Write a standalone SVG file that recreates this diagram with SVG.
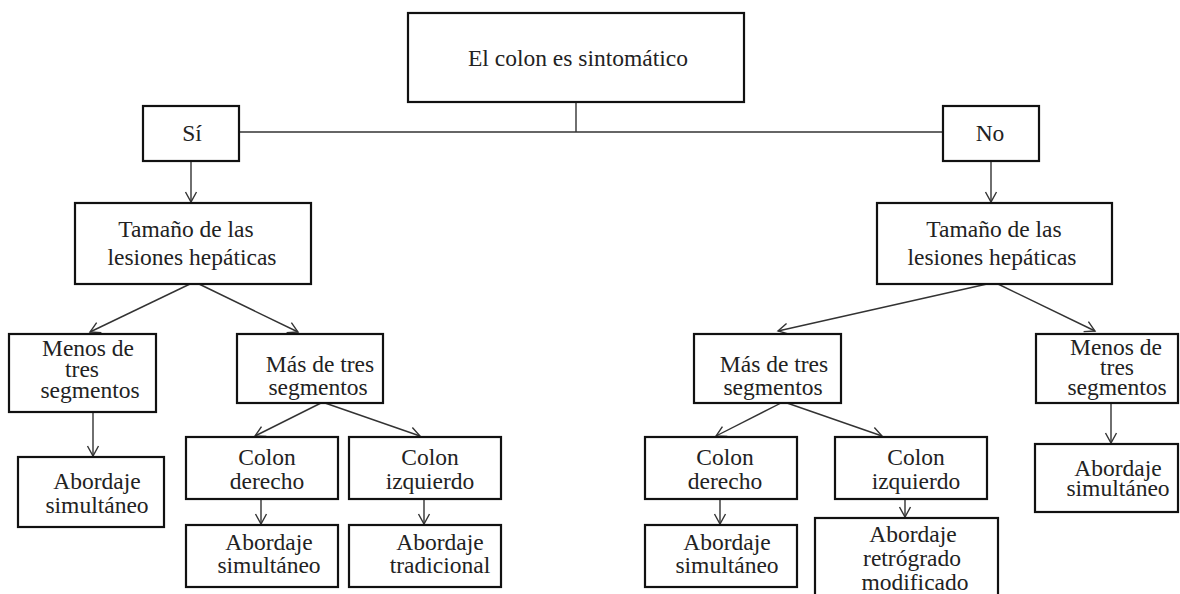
<svg xmlns="http://www.w3.org/2000/svg" width="1180" height="594" viewBox="0 0 1180 594">
<style>
.box{fill:#fff;stroke:#111;stroke-width:2.2}
.t{font-family:"Liberation Serif","Times New Roman",serif;font-size:23.5px;fill:#222;text-anchor:middle}
.c{stroke:#333;stroke-width:1.4;fill:none}
.a{marker-end:url(#arr)}
</style>
<defs>
<marker id="arr" markerUnits="userSpaceOnUse" markerWidth="14" markerHeight="14" refX="0" refY="0" viewBox="-12 -7 14 14" orient="auto">
<path d="M-10,-5.5 L0,0 L-10,5.5" fill="none" stroke="#333" stroke-width="1.4"/>
</marker>
</defs>
<rect width="1180" height="594" fill="#fff"/>
<g id="connectors">
<line class="c" x1="576" y1="102" x2="576" y2="132"/>
<line class="c" x1="239" y1="132" x2="943" y2="132"/>
<line class="c a" x1="191" y1="161" x2="191" y2="202"/>
<line class="c a" x1="991" y1="161" x2="991" y2="202"/>
<line class="c a" x1="190" y1="284" x2="90" y2="332"/>
<line class="c a" x1="199" y1="284" x2="298" y2="332"/>
<line class="c a" x1="987" y1="284" x2="778" y2="331"/>
<line class="c a" x1="998" y1="284" x2="1095" y2="331"/>
<line class="c a" x1="93" y1="412" x2="93" y2="456"/>
<line class="c a" x1="321" y1="403" x2="255" y2="436"/>
<line class="c a" x1="325" y1="403" x2="420" y2="436"/>
<line class="c a" x1="261" y1="499" x2="261" y2="524"/>
<line class="c a" x1="424" y1="499" x2="424" y2="524"/>
<line class="c a" x1="781" y1="403" x2="716" y2="436"/>
<line class="c a" x1="787" y1="403" x2="882" y2="436"/>
<line class="c a" x1="720" y1="499" x2="720" y2="524"/>
<line class="c a" x1="905" y1="499" x2="905" y2="517"/>
<line class="c a" x1="1111" y1="403" x2="1111" y2="443"/>
</g>
<g id="n-top"><rect class="box" x="408" y="13" width="336" height="89"/><text class="t" x="578" y="66">El colon es sintomático</text></g>
<g id="n-si"><rect class="box" x="143" y="106" width="96" height="55"/><text class="t" x="192" y="141">Sí</text></g>
<g id="n-no"><rect class="box" x="943" y="106" width="96" height="55"/><text class="t" x="990" y="141">No</text></g>
<g id="n-tam-l"><rect class="box" x="75" y="203" width="236" height="81"/><text class="t" x="186" y="237">Tamaño de las</text><text class="t" x="192" y="265">lesiones hepáticas</text></g>
<g id="n-tam-r"><rect class="box" x="877" y="203" width="235" height="81"/><text class="t" x="994" y="237">Tamaño de las</text><text class="t" x="992" y="265">lesiones hepáticas</text></g>
<g id="n-menos-l"><rect class="box" x="9" y="334" width="147" height="78"/><text class="t" x="88" y="356">Menos de</text><text class="t" x="82" y="377">tres</text><text class="t" x="90" y="398">segmentos</text></g>
<g id="n-mas-l"><rect class="box" x="237" y="334" width="146" height="69"/><text class="t" x="320" y="372">Más de tres</text><text class="t" x="318" y="395">segmentos</text></g>
<g id="n-abs-l1"><rect class="box" x="18" y="457" width="146" height="70"/><text class="t" x="97" y="489">Abordaje</text><text class="t" x="97" y="513">simultáneo</text></g>
<g id="n-cder-l"><rect class="box" x="186" y="437" width="152" height="62"/><text class="t" x="267" y="465">Colon</text><text class="t" x="267" y="489">derecho</text></g>
<g id="n-cizq-l"><rect class="box" x="349" y="437" width="152" height="62"/><text class="t" x="430" y="465">Colon</text><text class="t" x="430" y="489">izquierdo</text></g>
<g id="n-abs-l2"><rect class="box" x="186" y="525" width="152" height="62"/><text class="t" x="269" y="550">Abordaje</text><text class="t" x="269" y="573">simultáneo</text></g>
<g id="n-trad-l"><rect class="box" x="349" y="525" width="152" height="62"/><text class="t" x="440" y="550">Abordaje</text><text class="t" x="440" y="573">tradicional</text></g>
<g id="n-mas-r"><rect class="box" x="694" y="334" width="147" height="69"/><text class="t" x="774" y="372">Más de tres</text><text class="t" x="773" y="395">segmentos</text></g>
<g id="n-menos-r"><rect class="box" x="1036" y="334" width="142" height="69"/><text class="t" x="1116" y="355">Menos de</text><text class="t" x="1117" y="375">tres</text><text class="t" x="1117" y="395">segmentos</text></g>
<g id="n-abs-r1"><rect class="box" x="1035" y="444" width="143" height="68"/><text class="t" x="1118" y="476">Abordaje</text><text class="t" x="1118" y="496">simultáneo</text></g>
<g id="n-cder-r"><rect class="box" x="645" y="437" width="152" height="62"/><text class="t" x="725" y="465">Colon</text><text class="t" x="725" y="489">derecho</text></g>
<g id="n-cizq-r"><rect class="box" x="835" y="437" width="152" height="62"/><text class="t" x="916" y="465">Colon</text><text class="t" x="916" y="489">izquierdo</text></g>
<g id="n-abs-r2"><rect class="box" x="645" y="525" width="152" height="62"/><text class="t" x="727" y="550">Abordaje</text><text class="t" x="727" y="573">simultáneo</text></g>
<g id="n-retro-r"><rect class="box" x="815" y="518" width="183" height="80"/><text class="t" x="913" y="542">Abordaje</text><text class="t" x="912" y="566">retrógrado</text><text class="t" x="915" y="590">modificado</text></g>
</svg>
